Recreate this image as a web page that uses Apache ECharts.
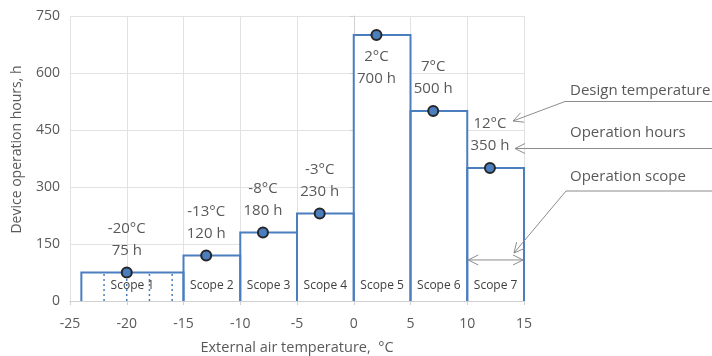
<!DOCTYPE html>
<html><head><meta charset="utf-8">
<script src="https://cdn.jsdelivr.net/npm/echarts@6/dist/echarts.min.js"></script>
<style>html,body{margin:0;padding:0;background:#fff}#c{width:712px;height:356px}</style>
</head><body><div id="c"></div>
<script>
const scopeNames = ['Scope 1','Scope 2','Scope 3','Scope 4','Scope 5','Scope 6','Scope 7'];
const scopeStart = [-24,-15,-10,-5,0,5,10];
const scopeEnd = [-15,-10,-5,0,5,10,15];
const designTemp = [-20,-13,-8,-3,2,7,12];
const hours = [75,120,180,230,700,500,350];
const scope1Dividers = [-22,-20,-18,-16];
const annotationTexts = ['Design temperature','Operation hours','Operation scope'];
const scopeArrowY = 108;

const FONT = '"Open Sans", sans-serif';
const TEXT = '#595959';
const BLUE = '#4a7ebf';
const GRAY = '#8c8c8c';
const AXIS = '#d0d0d0';
const GRID = '#e2e2e2';

const chart = echarts.init(document.getElementById('c'), null, {renderer:'canvas'});
const barData = scopeStart.map((s,i)=>[s, scopeEnd[i], hours[i]]);

chart.setOption({
  animation:false,
  grid:{left:70,right:188,top:16,bottom:55,outerBoundsMode:'none',containLabel:false},
  xAxis:{type:'value',min:-25,max:15,interval:5,
    axisLine:{show:true,lineStyle:{color:AXIS}},
    axisTick:{show:true,length:4,lineStyle:{color:AXIS}},
    axisLabel:{color:TEXT,fontSize:14,fontFamily:FONT,margin:16},
    splitLine:{show:true,lineStyle:{color:GRID}},
    name:'External air temperature,  °C',nameLocation:'middle',nameGap:39,
    nameTextStyle:{color:TEXT,fontSize:14.5,fontFamily:FONT}},
  yAxis:{type:'value',min:0,max:750,interval:150,
    axisLine:{show:true,lineStyle:{color:AXIS}},
    axisTick:{show:true,length:4,lineStyle:{color:AXIS}},
    axisLabel:{color:TEXT,fontSize:14,fontFamily:FONT,margin:10},
    splitLine:{show:true,lineStyle:{color:GRID}},
    name:'Device operation hours, h',nameLocation:'middle',nameGap:46,
    nameTextStyle:{color:TEXT,fontSize:14,fontFamily:FONT,padding:[0,0,0,18]}},
  series:[
    {type:'custom',name:'fill',data:barData,z:1,silent:true,
      renderItem:(params,api)=>{
        const p0=api.coord([api.value(0),api.value(2)]);
        const p1=api.coord([api.value(1),0]);
        return {type:'rect',shape:{x:p0[0],y:p0[1],width:p1[0]-p0[0],height:p1[1]-p0[1]},style:{fill:'#fff'}};
      }},
    {type:'custom',name:'outline',data:barData,z:3,silent:true,
      renderItem:(params,api)=>{
        const a=api.coord([api.value(0),0]);
        const b=api.coord([api.value(0),api.value(2)]);
        const c=api.coord([api.value(1),api.value(2)]);
        const d=api.coord([api.value(1),0]);
        const m=api.coord([(api.value(0)+api.value(1))/2,0]);
        return {type:'group',children:[
          {type:'polyline',shape:{points:[a,b,c,d]},style:{stroke:BLUE,lineWidth:2,fill:null}},
          {type:'text',style:{text:scopeNames[params.dataIndex],x:m[0],y:m[1]-15,fill:'#404040',
            fontSize:12,fontFamily:FONT,align:'center',verticalAlign:'middle',textAlign:'center',textVerticalAlign:'middle'}}
        ]};
      }},
    {type:'custom',name:'dividers',data:scope1Dividers.map(x=>[x,hours[0]]),z:2,silent:true,
      renderItem:(params,api)=>{
        const a=api.coord([api.value(0),0]);
        const b=api.coord([api.value(0),api.value(1)]);
        return {type:'line',shape:{x1:a[0],y1:a[1],x2:b[0],y2:b[1]},style:{stroke:BLUE,lineWidth:1.5,lineDash:[2,3]}};
      }},
    {type:'scatter',z:5,symbolSize:10,
      data:designTemp.map((t,i)=>({value:[t,hours[i]],label:{position:i===4?'bottom':'top'}})),
      itemStyle:{color:BLUE,borderColor:'#262626',borderWidth:2,opacity:1},
      label:{show:true,formatter:p=>p.value[0]+'°C\n'+p.value[1]+' h',color:TEXT,fontSize:15,fontFamily:FONT,lineHeight:22,distance:5}}
  ]
});

function chevron(tip, from, len, half){
  const dx=from[0]-tip[0], dy=from[1]-tip[1];
  const L=Math.hypot(dx,dy), ux=dx/L, uy=dy/L;
  const bx=tip[0]+ux*len, by=tip[1]+uy*len;
  return [[bx-uy*half,by+ux*half],tip,[bx+uy*half,by-ux*half]];
}
const lineStyle={stroke:GRAY,lineWidth:1,fill:null};
const g=[];
function poly(pts){ g.push({type:'polyline',z:10,shape:{points:pts},style:lineStyle,silent:true}); }
function arrowPath(pts){
  poly(pts);
  poly(chevron(pts[pts.length-1],pts[pts.length-2],10,5));
}
const textY=[91,133,177];
annotationTexts.forEach((t,i)=>g.push({type:'text',z:10,x:570,y:textY[i],style:{text:t,fill:TEXT,fontSize:15,fontFamily:FONT,verticalAlign:'middle',textVerticalAlign:'middle'},silent:true}));
arrowPath([[712,101.5],[565,101.5],[513,121]]);
arrowPath([[712,148.5],[515,148.5]]);
arrowPath([[712,191],[566,191],[514,253]]);
const pa=chart.convertToPixel({xAxisIndex:0,yAxisIndex:0},[scopeStart[6],scopeArrowY]);
const pb=chart.convertToPixel({xAxisIndex:0,yAxisIndex:0},[scopeEnd[6],scopeArrowY]);
pa[0]+=1; pb[0]-=1;
poly([pa,pb]);
poly(chevron(pa,pb,10,5));
poly(chevron(pb,pa,10,5));
chart.setOption({graphic:g});
</script>
</body></html>
